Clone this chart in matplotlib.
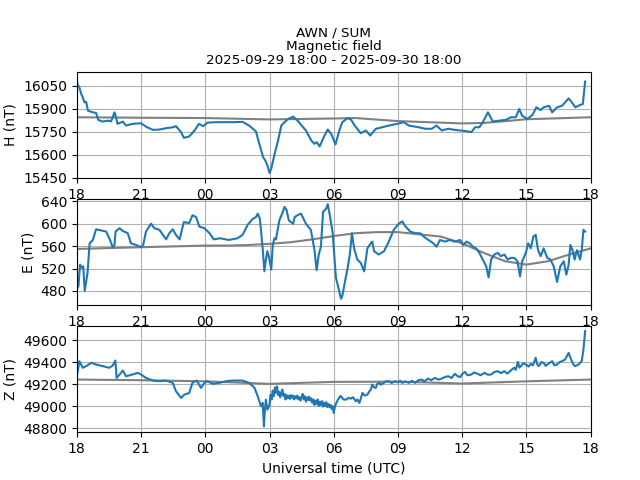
"""AWN / SUM magnetic field, three components over 24 h."""

from datetime import datetime, timedelta

import matplotlib
matplotlib.use("Agg")
import matplotlib.pyplot as plt
import matplotlib.dates as mdates
from matplotlib.ticker import MultipleLocator

START = datetime(2025, 9, 29, 18)
END = datetime(2025, 9, 30, 18)

# hours after START
h_hours = [0.0, 0.03, 0.12, 0.2, 0.28, 0.36, 0.44, 0.52, 0.75, 0.9, 1.0, 1.2, 1.45, 1.6,
           1.76, 1.83, 1.9, 2.15, 2.3, 2.6, 3.0, 3.23, 3.55, 3.86, 4.17, 4.5, 4.63, 4.87,
           5.0, 5.25, 5.5, 5.7, 5.9, 6.1, 6.5, 7.3, 7.74, 8.05, 8.37, 8.5, 8.7, 8.8, 8.9,
           9.0, 9.08, 9.24, 9.4, 9.55, 9.7, 9.87, 10.1, 10.3, 10.5, 10.7, 10.95, 11.1,
           11.2, 11.34, 11.57, 11.72, 11.88, 12.08, 12.26, 12.4, 12.65, 12.8, 13.0, 13.26,
           13.5, 13.7, 13.96, 14.26, 14.57, 14.96, 15.27, 15.5, 15.96, 16.27, 16.58, 16.8,
           17.04, 17.35, 17.65, 17.9, 18.2, 18.43, 18.6, 18.8, 18.96, 19.2, 19.43, 19.73,
           20.04, 20.27, 20.5, 20.66, 20.8, 21.04, 21.28, 21.46, 21.66, 21.8, 22.05, 22.2,
           22.43, 22.66, 22.97, 23.12, 23.28, 23.5, 23.63, 23.74]
h_values = [16090, 16060, 16039, 16000, 15974, 15942, 15945, 15888, 15877, 15873, 15828,
            15817, 15823, 15818, 15877, 15845, 15802, 15817, 15791, 15802, 15806, 15784,
            15763, 15765, 15774, 15780, 15787, 15748, 15711, 15720, 15759, 15802, 15787,
            15810, 15813, 15813, 15815, 15791, 15752, 15683, 15586, 15564, 15532, 15482,
            15510, 15607, 15694, 15791, 15813, 15834, 15849, 15825, 15791, 15759, 15694,
            15672, 15683, 15655, 15726, 15765, 15737, 15668, 15759, 15813, 15840, 15830,
            15787, 15741, 15759, 15726, 15769, 15780, 15791, 15802, 15813, 15791, 15780,
            15770, 15770, 15791, 15759, 15770, 15763, 15759, 15754, 15748, 15780, 15780,
            15813, 15877, 15817, 15823, 15828, 15845, 15845, 15899, 15855, 15834, 15860,
            15910, 15892, 15910, 15920, 15877, 15910, 15920, 15968, 15942, 15910, 15925,
            15931, 16078]

e_hours = [0.0, 0.08, 0.15, 0.24, 0.3, 0.37, 0.43, 0.5, 0.6, 0.75, 0.9, 1.13, 1.37, 1.52,
           1.68, 1.76, 1.81, 2.0, 2.15, 2.38, 2.53, 2.77, 3.0, 3.1, 3.23, 3.47, 3.62, 3.86,
           4.17, 4.32, 4.48, 4.63, 4.8, 5.0, 5.25, 5.4, 5.57, 5.72, 5.96, 6.2, 6.4, 6.7,
           7.1, 7.5, 7.74, 7.98, 8.2, 8.37, 8.45, 8.55, 8.68, 8.76, 8.83, 8.9, 9.0, 9.08,
           9.15, 9.23, 9.3, 9.46, 9.6, 9.7, 9.8, 9.9, 10.1, 10.18, 10.3, 10.47, 10.7,
           10.93, 11.1, 11.2, 11.3, 11.4, 11.5, 11.65, 11.72, 11.83, 11.95, 12.03, 12.1,
           12.23, 12.34, 12.4, 12.57, 12.65, 12.75, 12.85, 12.95, 13.1, 13.26, 13.42,
           13.57, 13.73, 13.8, 13.88, 14.1, 14.35, 14.57, 14.8, 15.03, 15.2, 15.35, 15.57,
           15.8, 16.04, 16.2, 16.42, 16.65, 16.8, 16.96, 17.2, 17.42, 17.65, 17.9, 18.04,
           18.2, 18.35, 18.5, 18.65, 18.8, 18.96, 19.12, 19.23, 19.35, 19.5, 19.66, 19.8,
           19.97, 20.12, 20.27, 20.43, 20.58, 20.7, 20.8, 20.97, 21.08, 21.2, 21.32, 21.43,
           21.54, 21.66, 21.8, 21.97, 22.12, 22.27, 22.43, 22.58, 22.74, 22.86, 22.97,
           23.05, 23.15, 23.25, 23.36, 23.5, 23.58, 23.66, 23.74]
e_values = [483, 489, 527, 521, 524, 480, 495, 512, 565, 571, 590, 588, 586, 574, 558, 562,
            586, 592, 587, 583, 565, 562, 558, 562, 586, 600, 592, 589, 572, 583, 590, 580,
            572, 603, 601, 615, 612, 595, 592, 583, 572, 574, 571, 574, 580, 598, 608, 612,
            618, 609, 556, 515, 536, 551, 536, 518, 562, 574, 572, 606, 619, 630, 624, 606,
            600, 612, 615, 618, 600, 589, 553, 517, 545, 559, 621, 627, 635, 612, 583, 542,
            504, 483, 466, 471, 506, 521, 545, 583, 556, 536, 530, 515, 556, 565, 568, 551,
            545, 551, 568, 589, 600, 604, 595, 586, 583, 583, 577, 571, 565, 559, 571, 568,
            571, 568, 571, 562, 568, 565, 559, 556, 548, 536, 524, 504, 536, 545, 548, 542,
            545, 536, 539, 539, 533, 506, 533, 548, 565, 556, 577, 580, 553, 542, 556, 539,
            536, 524, 496, 524, 533, 509, 527, 562, 553, 536, 553, 536, 553, 589, 586]

z_hours = [0.0, 0.02, 0.12, 0.28, 0.44, 0.67, 0.9, 1.2, 1.52, 1.68, 1.8, 1.86, 2.0, 2.15,
           2.3, 2.6, 2.85, 3.0, 3.23, 3.55, 3.86, 4.17, 4.48, 4.63, 4.87, 5.02, 5.25, 5.4,
           5.6, 5.8, 5.96, 6.1, 6.35, 6.66, 6.97, 7.28, 7.74, 8.05, 8.3, 8.45, 8.6, 8.68,
           8.74, 8.78, 8.83, 8.9,
           9.0, 9.05, 9.1, 9.15, 9.2, 9.25, 9.3, 9.35, 9.4, 9.45, 9.5, 9.55, 9.6, 9.65,
           9.7, 9.75, 9.8, 9.85, 9.9, 9.95, 10.0, 10.05, 10.1, 10.15, 10.2, 10.25, 10.3,
           10.35, 10.4, 10.45, 10.5, 10.55, 10.6, 10.65, 10.7, 10.75, 10.8, 10.85, 10.9,
           10.95, 11.0, 11.05, 11.1, 11.15, 11.2, 11.25, 11.3, 11.35, 11.4, 11.45, 11.5,
           11.55, 11.6, 11.65, 11.7, 11.75, 11.8, 11.85, 11.9, 11.95, 12.0, 12.05, 12.1,
           12.2, 12.3,
           12.34, 12.45, 12.57, 12.7, 12.8, 12.9, 13.03, 13.1, 13.2, 13.34, 13.45, 13.57,
           13.65, 13.73, 13.8, 13.88, 13.96, 14.03, 14.1, 14.2, 14.34, 14.45, 14.57, 14.7,
           14.88, 15.0, 15.1, 15.2, 15.35, 15.5, 15.65, 15.8, 15.95, 16.1, 16.25, 16.4,
           16.55, 16.73, 16.9, 17.04, 17.2, 17.35, 17.5, 17.65, 17.8, 17.9, 18.0, 18.12,
           18.25, 18.43, 18.55, 18.73, 18.85, 19.04, 19.2, 19.35, 19.5, 19.66, 19.8, 19.97,
           20.1, 20.2, 20.3, 20.43, 20.5, 20.6, 20.67, 20.74, 20.85, 20.97, 21.1, 21.2,
           21.3, 21.43, 21.5, 21.58, 21.7, 21.8, 21.9, 21.97, 22.1, 22.2, 22.3, 22.43,
           22.55, 22.66, 22.8, 22.97, 23.05, 23.12, 23.2, 23.28, 23.43, 23.58, 23.66, 23.74]
z_values = [49484, 49287, 49408, 49348, 49363, 49393, 49378, 49363, 49348, 49369, 49414,
            49256, 49287, 49323, 49271, 49287, 49302, 49287, 49256, 49232, 49226, 49232,
            49211, 49135, 49074, 49104, 49119, 49211, 49232, 49165, 49211, 49226, 49202,
            49211, 49226, 49232, 49232, 49211, 49165, 49089, 48998, 49028, 48815, 48952,
            49058, 48967,
            49013, 49104, 49060, 49140, 49090, 49170, 49120, 49180, 49100, 49130, 49080,
            49120, 49150, 49090, 49110, 49060, 49100, 49070, 49095, 49065, 49100, 49075,
            49095, 49060, 49090, 49070, 49095, 49060, 49080, 49050, 49085, 49110, 49060,
            49090, 49040, 49080, 49055, 49085, 49050, 49070, 49030, 49060, 49010, 49050,
            49020, 49060, 49000, 49040, 49010, 49045, 48995, 49030, 49000, 49035, 48990,
            49020, 48990, 49010, 48975, 49000, 48937, 48990, 49020, 49060, 49090,
            49089, 49060, 49058, 49075, 49067, 49080, 49043, 49060, 49028, 49119, 49095,
            49104, 49130, 49150, 49195, 49170, 49165, 49200, 49211, 49195, 49211, 49225,
            49226, 49210, 49226, 49215, 49230, 49211, 49225, 49211, 49230, 49211, 49235,
            49241, 49225, 49250, 49235, 49256, 49240, 49250, 49265, 49271, 49255, 49293,
            49270, 49263, 49290, 49311, 49280, 49287, 49305, 49293, 49280, 49302, 49285,
            49287, 49310, 49317, 49300, 49317, 49295, 49311, 49330, 49348, 49330, 49402,
            49350, 49363, 49390, 49378, 49360, 49384, 49370, 49439, 49380, 49363, 49400,
            49393, 49365, 49378, 49395, 49408, 49370, 49378, 49400, 49408, 49423, 49484,
            49440, 49408, 49375, 49363, 49378, 49408, 49515, 49682]

# quiet-day baselines (grey curves)
h_base_hours = [0, 3, 6, 9, 12, 13, 15, 16, 18, 19, 21, 24]
h_base = [15845, 15842, 15840, 15831, 15837, 15840, 15820, 15815, 15805, 15808, 15832, 15845]
e_base_hours = list(range(25))
e_base = [555, 556, 557, 558, 559, 560, 561, 561, 562, 564, 567, 572, 578, 583, 585,
          585, 581, 577, 565, 548, 533, 527, 533, 545, 556]
z_base_hours = [0, 3, 6, 9, 12, 15, 18, 21, 24]
z_base = [49241, 49235, 49225, 49202, 49220, 49222, 49205, 49225, 49241]


def to_times(hours):
    return [START + timedelta(hours=h) for h in hours]


panels = [
    ("H (nT)", h_hours, h_values, h_base_hours, h_base, (15450, 16140), 150),
    ("E (nT)", e_hours, e_values, e_base_hours, e_base, (455, 644), 40),
    ("Z (nT)", z_hours, z_values, z_base_hours, z_base, (48764, 49727), 200),
]

fig, axes = plt.subplots(3, 1, figsize=(6.4, 4.8), dpi=100)
fig.subplots_adjust(left=0.12, right=0.923, top=0.85, bottom=0.1, hspace=0.2)

for ax, (label, hrs, vals, bhrs, bvals, ylim, step) in zip(axes, panels):
    ax.plot(to_times(bhrs), bvals, color="grey", linewidth=1.5)
    ax.plot(to_times(hrs), vals, color="C0", linewidth=1.5)
    ax.set_xlim(START, END)
    ax.set_ylim(*ylim)
    ax.yaxis.set_major_locator(MultipleLocator(step))
    ax.xaxis.set_major_locator(mdates.HourLocator(interval=3))
    ax.xaxis.set_major_formatter(mdates.DateFormatter("%H"))
    ax.set_ylabel(label)
    ax.grid(True)

axes[0].set_title("AWN / SUM\nMagnetic field\n2025-09-29 18:00 - 2025-09-30 18:00",
                  fontsize=9.7, linespacing=1.05)
axes[2].set_xlabel("Universal time (UTC)")

fig.savefig("out.png", dpi=100)
